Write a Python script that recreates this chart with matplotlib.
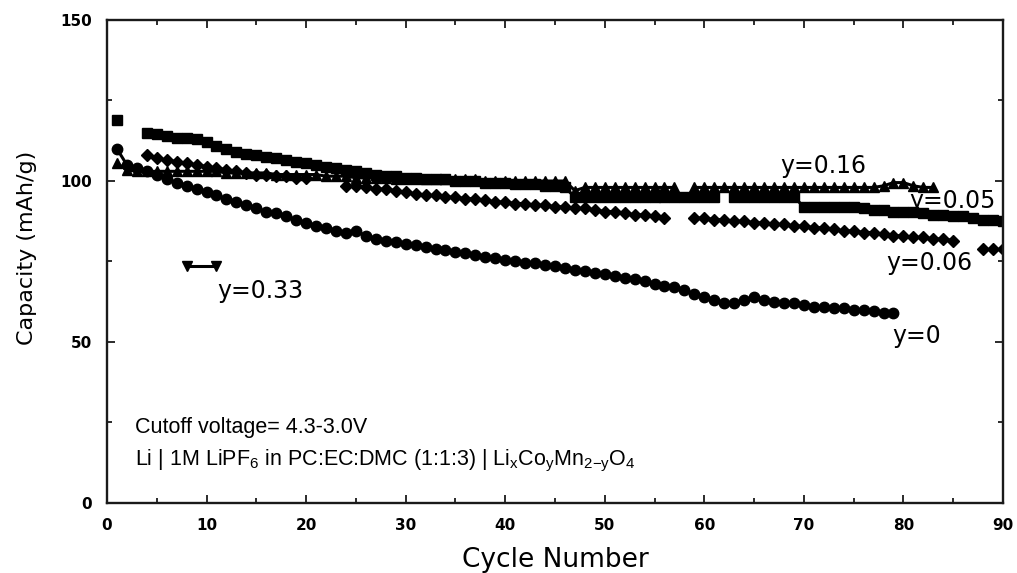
import matplotlib
matplotlib.use("Agg")
import matplotlib.pyplot as plt
from matplotlib.ticker import MultipleLocator

plt.rcParams['font.family'] = ['Liberation Sans', 'DejaVu Sans']
plt.rcParams['mathtext.fontset'] = 'custom'
plt.rcParams['mathtext.rm'] = 'Liberation Sans'
plt.rcParams['mathtext.it'] = 'Liberation Sans'

# ---- capacity data (mAh/g) per cycle ----
# y = 0 (LiMn2O4)
cyc_y0 = list(range(1, 80))
cap_y0 = [110, 105, 104, 103, 102, 100.5, 99.5, 98.5, 97.5, 96.5,
          95.5, 94.5, 93.5, 92.5, 91.5, 90.5, 90, 89, 88, 87,
          86, 85.5, 84.5, 84, 84.5, 83, 82, 81.5, 81, 80.5,
          80, 79.5, 79, 78.5, 78, 77.5, 77, 76.5, 76, 75.5,
          75, 74.5, 74.5, 74, 73.5, 73, 72.5, 72, 71.5, 71,
          70.5, 70, 69.5, 69, 68, 67.5, 67, 66, 65, 64,
          63, 62, 62, 63, 64, 63, 62.5, 62, 62, 61.5,
          61, 61, 60.5, 60.5, 60, 60, 59.5, 59, 59]

# y = 0.05
cyc_y005 = [1] + list(range(4, 62)) + list(range(63, 91))
cap_y005 = ([119]
            + [115, 114.5, 114, 113.5, 113.5, 113, 112, 111, 110, 109,
               108.5, 108, 107.5, 107, 106.5, 106, 105.5, 105, 104.5, 104,
               103.5, 103, 102.5, 102, 101.5, 101.5, 101, 101, 100.5, 100.5,
               100.5, 100, 100, 100, 99.5, 99.5, 99.5, 99, 99, 99,
               98.5, 98.5, 98, 95, 95, 95, 95, 95, 95, 95,
               95, 95, 95, 95, 95, 95, 95, 95]
            + [95, 95, 95, 95, 95, 95, 95, 92, 92, 92,
               92, 92, 92, 91.5, 91, 91, 90.5, 90.5, 90.5, 90,
               89.5, 89.5, 89, 89, 88.5, 88, 88, 87.5])

# y = 0.06
cyc_y006 = list(range(4, 21)) + list(range(24, 57)) + list(range(59, 86)) + [88, 89, 90]
cap_y006 = ([108, 107, 106.5, 106, 105.5, 105, 104.5, 104, 103.5, 103,
             102.5, 102, 102, 101.5, 101.5, 101, 101]
            + [98.5, 98.5, 98, 97.5, 97.5, 97, 96.5, 96, 95.5, 95.5,
               95, 95, 94.5, 94.5, 94, 93.5, 93.5, 93, 93, 92.5,
               92.5, 92, 92, 91.5, 91.5, 91, 90.5, 90.5, 90, 89.5,
               89.5, 89, 88.5]
            + [88.5, 88.5, 88, 88, 87.5, 87.5, 87, 87, 86.5, 86.5,
               86, 86, 85.5, 85.5, 85, 84.5, 84.5, 84, 84, 83.5,
               83, 83, 82.5, 82.5, 82, 82, 81.5]
            + [79, 79, 79])

# y = 0.16
cyc_y016 = list(range(1, 58)) + list(range(59, 84))
cap_y016 = ([105.5, 103.5, 103, 103, 103, 103, 103, 103, 103, 103,
             103, 102.5, 102.5, 102.5, 102.5, 102.5, 102, 102, 102, 102,
             102, 101.5, 101.5, 101.5, 101, 101, 101, 101, 100.5, 100.5,
             100.5, 100.5, 100.5, 100.5, 100.5, 100.5, 100.5, 100, 100, 100,
             100, 100, 100, 100, 100, 100, 97, 98, 98, 98,
             98, 98, 98, 98, 98, 98, 98]
            + [98, 98, 98, 98, 98, 98, 98, 98, 98, 98,
               98, 98, 98, 98, 98, 98, 98, 98, 98, 98.5,
               99.5, 99.5, 98.5, 98, 98])

# y = 0.33
cyc_y033 = [8, 11]
cap_y033 = [73.5, 73.5]


def plot_runs(ax, cycles, caps, max_step=1, **style):
    """Draw a series, leaving breaks where more than max_step cycles were skipped."""
    start = 0
    for i in range(1, len(cycles) + 1):
        if i == len(cycles) or cycles[i] - cycles[i - 1] > max_step:
            ax.plot(cycles[start:i], caps[start:i], **style)
            start = i


fig = plt.figure(figsize=(10.17, 5.73), dpi=100)
ax = fig.add_axes([0.1052, 0.1222, 0.8810, 0.8429])

kw = dict(color='black', lw=2.2, markeredgecolor='black', markerfacecolor='black')
plot_runs(ax, cyc_y0, cap_y0, marker='o', ms=7.5, **kw)
plot_runs(ax, cyc_y005, cap_y005, marker='s', ms=6.8, **kw)
plot_runs(ax, cyc_y006, cap_y006, marker='D', ms=6.2, **kw)
plot_runs(ax, cyc_y016, cap_y016, marker='^', ms=6.8, **kw)
plot_runs(ax, cyc_y033, cap_y033, max_step=5, marker='v', ms=7.0, **kw)

ax.set_xlim(0, 90)
ax.set_ylim(0, 150)
ax.xaxis.set_major_locator(MultipleLocator(10))
ax.xaxis.set_minor_locator(MultipleLocator(5))
ax.yaxis.set_major_locator(MultipleLocator(50))
ax.yaxis.set_minor_locator(MultipleLocator(25))
ax.tick_params(which='both', direction='in', top=True, right=True,
               width=1.3, color='#1a1a1a')
ax.tick_params(which='major', length=6, pad=11)
ax.tick_params(which='minor', length=3.5)
for lab in ax.get_xticklabels() + ax.get_yticklabels():
    lab.set_fontfamily('DejaVu Sans')
    lab.set_fontweight('bold')
    lab.set_fontsize(11)
for s in ax.spines.values():
    s.set_linewidth(1.7)
    s.set_color('#1a1a1a')

ax.set_xlabel('Cycle Number', fontsize=19, family='DejaVu Sans')
ax.xaxis.label.set_verticalalignment('baseline')
ax.xaxis.set_label_coords(0.5, -0.1325)
ax.set_ylabel('Capacity (mAh/g)', fontsize=16, family='DejaVu Sans')
ax.yaxis.label.set_verticalalignment('baseline')
ax.yaxis.set_label_coords(-0.0826, 0.528)

lbl = dict(fontsize=17, family='DejaVu Sans', color='black', va='baseline', ha='left')
ax.text(67.6, 102.4, 'y=0.16', **lbl)
ax.text(80.6, 91.5, 'y=0.05', **lbl)
ax.text(78.3, 72.3, 'y=0.06', **lbl)
ax.text(78.9, 49.7, 'y=0', **lbl)
ax.text(11.1, 63.6, 'y=0.33', **lbl)

note = dict(fontsize=15.5, color='black', va='baseline', ha='left')
ax.text(2.8, 21.7, 'Cutoff voltage= 4.3-3.0V', **note)
ax.text(2.8, 11.8,
        r'Li | 1M LiPF$_6$ in PC:EC:DMC (1:1:3) | Li$_x$Co$_y$Mn$_{2\mathrm{-}y}$O$_4$',
        **note)

fig.savefig('out.png', dpi=100, facecolor='white')
